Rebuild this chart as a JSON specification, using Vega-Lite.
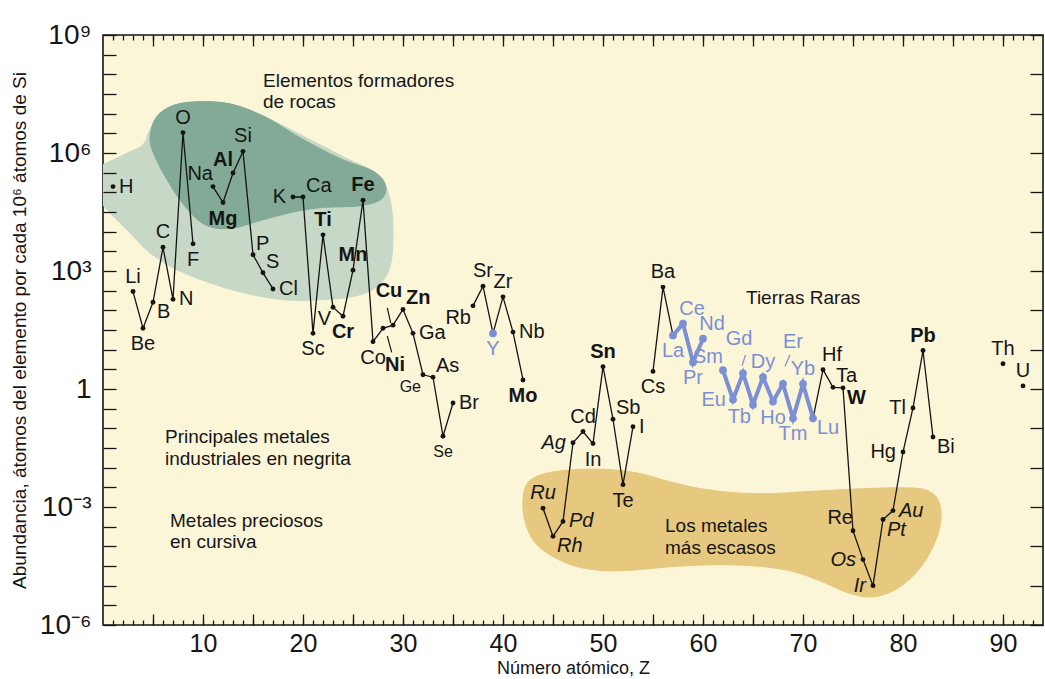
{
  "$schema": "https://vega.github.io/schema/vega-lite/v6.json",
  "width": 940,
  "height": 590,
  "autosize": {"type": "none"},
  "padding": {"left": 103, "top": 35, "right": 2, "bottom": 54},
  "background": "#ffffff",
  "config": {
    "view": {"fill": "#fcf6d9", "stroke": "#151515", "strokeWidth": 1.6},
    "axis": {"domain": false, "grid": false, "tickColor": "#151515", "tickWidth": 1.3, "labelFont": "Liberation Sans", "labelColor": "#151515", "titleFont": "Liberation Sans", "titleColor": "#151515", "titleFontWeight": "normal", "zindex": 1},
    "text": {"font": "Liberation Sans"}
  },
  "resolve": {"axis": {"x": "independent", "y": "independent"}},
  "datasets": {
    "elements": [
      {"Z":1,"sym":"H","v":140000,"grp":"normal","pos":"E"},
      {"Z":3,"sym":"Li","v":300,"grp":"normal","seg":"a","pos":"N"},
      {"Z":4,"sym":"Be","v":35,"grp":"normal","seg":"a","pos":"S"},
      {"Z":5,"sym":"B","v":160,"grp":"normal","seg":"a","pos":"SE"},
      {"Z":6,"sym":"C","v":4000,"grp":"normal","seg":"a","pos":"N"},
      {"Z":7,"sym":"N","v":190,"grp":"normal","seg":"a","pos":"E"},
      {"Z":8,"sym":"O","v":3300000,"grp":"normal","seg":"a","pos":"N"},
      {"Z":9,"sym":"F","v":4900,"grp":"normal","seg":"a","pos":"S"},
      {"Z":11,"sym":"Na","v":140000,"grp":"normal","seg":"b","pos":"NW"},
      {"Z":12,"sym":"Mg","v":55000,"grp":"industrial","seg":"b","pos":"S"},
      {"Z":13,"sym":"Al","v":310000,"grp":"industrial","seg":"b","pos":"NW"},
      {"Z":14,"sym":"Si","v":1100000,"grp":"normal","seg":"b","pos":"N"},
      {"Z":15,"sym":"P","v":2600,"grp":"normal","seg":"b","pos":"NE"},
      {"Z":16,"sym":"S","v":900,"grp":"normal","seg":"b","pos":"NE"},
      {"Z":17,"sym":"Cl","v":350,"grp":"normal","seg":"b","pos":"E"},
      {"Z":19,"sym":"K","v":76000,"grp":"normal","seg":"c","pos":"W"},
      {"Z":20,"sym":"Ca","v":76000,"grp":"normal","seg":"c","pos":"NE"},
      {"Z":21,"sym":"Sc","v":26,"grp":"normal","seg":"c","pos":"S"},
      {"Z":22,"sym":"Ti","v":8300,"grp":"industrial","seg":"c","pos":"N"},
      {"Z":23,"sym":"V","v":120,"grp":"normal","seg":"c","pos":"SW"},
      {"Z":24,"sym":"Cr","v":71,"grp":"industrial","seg":"c","pos":"S"},
      {"Z":25,"sym":"Mn","v":1050,"grp":"industrial","seg":"c","pos":"N"},
      {"Z":26,"sym":"Fe","v":63000,"grp":"industrial","seg":"c","pos":"N"},
      {"Z":27,"sym":"Co","v":16,"grp":"normal","seg":"c","pos":"S"},
      {"Z":28,"sym":"Ni","v":35,"grp":"industrial","seg":"c","pos":"SE2"},
      {"Z":29,"sym":"Cu","v":42,"grp":"industrial","seg":"c","pos":"N2"},
      {"Z":30,"sym":"Zn","v":105,"grp":"industrial","seg":"c","pos":"NE"},
      {"Z":31,"sym":"Ga","v":26,"grp":"normal","seg":"c","pos":"E"},
      {"Z":32,"sym":"Ge","v":2.3,"grp":"normal","seg":"c","pos":"SW"},
      {"Z":33,"sym":"As","v":2.0,"grp":"normal","seg":"c","pos":"NE"},
      {"Z":34,"sym":"Se","v":0.063,"grp":"normal","seg":"c","pos":"S"},
      {"Z":35,"sym":"Br","v":0.44,"grp":"normal","seg":"c","pos":"E"},
      {"Z":37,"sym":"Rb","v":130,"grp":"normal","seg":"d","pos":"SW"},
      {"Z":38,"sym":"Sr","v":410,"grp":"normal","seg":"d","pos":"N"},
      {"Z":39,"sym":"Y","v":26,"grp":"rare","seg":"d","pos":"S"},
      {"Z":40,"sym":"Zr","v":220,"grp":"normal","seg":"d","pos":"N"},
      {"Z":41,"sym":"Nb","v":28,"grp":"normal","seg":"d","pos":"E"},
      {"Z":42,"sym":"Mo","v":1.7,"grp":"industrial","seg":"d","pos":"S"},
      {"Z":44,"sym":"Ru","v":0.00093,"grp":"precious","seg":"e","pos":"N"},
      {"Z":45,"sym":"Rh","v":0.00018,"grp":"precious","seg":"e","pos":"SE"},
      {"Z":46,"sym":"Pd","v":0.00043,"grp":"precious","seg":"e","pos":"E"},
      {"Z":47,"sym":"Ag","v":0.043,"grp":"precious","seg":"e","pos":"W"},
      {"Z":48,"sym":"Cd","v":0.083,"grp":"normal","seg":"e","pos":"N"},
      {"Z":49,"sym":"In","v":0.041,"grp":"normal","seg":"e","pos":"S"},
      {"Z":50,"sym":"Sn","v":3.7,"grp":"industrial","seg":"e","pos":"N"},
      {"Z":51,"sym":"Sb","v":0.17,"grp":"normal","seg":"e","pos":"NE"},
      {"Z":52,"sym":"Te","v":0.0037,"grp":"normal","seg":"e","pos":"S"},
      {"Z":53,"sym":"I","v":0.11,"grp":"normal","seg":"e","pos":"E"},
      {"Z":55,"sym":"Cs","v":2.8,"grp":"normal","seg":"f","pos":"S"},
      {"Z":56,"sym":"Ba","v":390,"grp":"normal","seg":"f","pos":"N"},
      {"Z":57,"sym":"La","v":23,"grp":"rare","seg":"f","reseg":"r1","pos":"S"},
      {"Z":58,"sym":"Ce","v":46,"grp":"rare","reseg":"r1","pos":"NNE"},
      {"Z":59,"sym":"Pr","v":4.8,"grp":"rare","reseg":"r1","pos":"S"},
      {"Z":60,"sym":"Nd","v":19,"grp":"rare","reseg":"r1","pos":"NNE"},
      {"Z":62,"sym":"Sm","v":3.0,"grp":"rare","reseg":"r2","pos":"NW"},
      {"Z":63,"sym":"Eu","v":0.54,"grp":"rare","reseg":"r2","pos":"W"},
      {"Z":64,"sym":"Gd","v":2.5,"grp":"rare","reseg":"r2","pos":"N2"},
      {"Z":65,"sym":"Tb","v":0.40,"grp":"rare","reseg":"r2","pos":"SW"},
      {"Z":66,"sym":"Dy","v":2.0,"grp":"rare","reseg":"r2","pos":"N"},
      {"Z":67,"sym":"Ho","v":0.48,"grp":"rare","reseg":"r2","pos":"S"},
      {"Z":68,"sym":"Er","v":1.35,"grp":"rare","reseg":"r2","pos":"NE2"},
      {"Z":69,"sym":"Tm","v":0.18,"grp":"rare","reseg":"r2","pos":"S"},
      {"Z":70,"sym":"Yb","v":1.35,"grp":"rare","reseg":"r2","pos":"N"},
      {"Z":71,"sym":"Lu","v":0.18,"grp":"rare","seg":"g","reseg":"r2","pos":"SE"},
      {"Z":72,"sym":"Hf","v":3.1,"grp":"normal","seg":"g","pos":"NNE"},
      {"Z":73,"sym":"Ta","v":1.1,"grp":"normal","seg":"g","pos":"NE"},
      {"Z":74,"sym":"W","v":1.07,"grp":"industrial","seg":"g","pos":"SE"},
      {"Z":75,"sym":"Re","v":0.00025,"grp":"normal","seg":"g","pos":"NW"},
      {"Z":76,"sym":"Os","v":0.000046,"grp":"precious","seg":"g","pos":"W"},
      {"Z":77,"sym":"Ir","v":0.00001,"grp":"precious","seg":"g","pos":"W"},
      {"Z":78,"sym":"Pt","v":0.00048,"grp":"precious","seg":"g","pos":"SE"},
      {"Z":79,"sym":"Au","v":0.00081,"grp":"precious","seg":"g","pos":"E"},
      {"Z":80,"sym":"Hg","v":0.025,"grp":"normal","seg":"g","pos":"W"},
      {"Z":81,"sym":"Tl","v":0.33,"grp":"normal","seg":"g","pos":"W"},
      {"Z":82,"sym":"Pb","v":9.5,"grp":"industrial","seg":"g","pos":"N"},
      {"Z":83,"sym":"Bi","v":0.06,"grp":"normal","seg":"g","pos":"SE"},
      {"Z":90,"sym":"Th","v":4.4,"grp":"normal","pos":"N"},
      {"Z":92,"sym":"U","v":1.2,"grp":"normal","pos":"N"}
    ],
    "lightBlob": [
      {"i":0,"Z":-0.7,"v":158000},{"i":1,"Z":-0.3,"v":427000},{"i":2,"Z":0.4,"v":562000},{"i":3,"Z":2.7,"v":1070000},
      {"i":4,"Z":4.0,"v":1620000},{"i":5,"Z":4.7,"v":3890000},{"i":6,"Z":5.7,"v":10500000},{"i":7,"Z":8.2,"v":17800000},
      {"i":8,"Z":11.7,"v":17800000},{"i":9,"Z":15.7,"v":9330000},{"i":10,"Z":19.7,"v":2950000},{"i":11,"Z":24.2,"v":759000},
      {"i":12,"Z":27.5,"v":282000},{"i":13,"Z":28.7,"v":64600},{"i":14,"Z":29.0,"v":9550},{"i":15,"Z":28.7,"v":1290},
      {"i":16,"Z":27.4,"v":398},{"i":17,"Z":25.0,"v":224},{"i":18,"Z":21.7,"v":186},{"i":19,"Z":18.0,"v":186},
      {"i":20,"Z":14.0,"v":282},{"i":21,"Z":10.7,"v":501},{"i":22,"Z":7.4,"v":1070},{"i":23,"Z":4.7,"v":2880},
      {"i":24,"Z":2.7,"v":9330},{"i":25,"Z":0.7,"v":30200},{"i":26,"Z":-0.5,"v":72400}
    ],
    "darkBlob": [
      {"i":0,"Z":4.7,"v":2190000},{"i":1,"Z":5.2,"v":7080000},{"i":2,"Z":6.7,"v":15100000},{"i":3,"Z":9.2,"v":20000000},
      {"i":4,"Z":12.7,"v":17800000},{"i":5,"Z":16.2,"v":8320000},{"i":6,"Z":19.7,"v":2450000},{"i":7,"Z":23.7,"v":724000},
      {"i":8,"Z":26.9,"v":355000},{"i":9,"Z":28.2,"v":166000},{"i":10,"Z":27.9,"v":69200},{"i":11,"Z":25.7,"v":45700},
      {"i":12,"Z":21.7,"v":40700},{"i":13,"Z":18.7,"v":30200},{"i":14,"Z":15.7,"v":19100},{"i":15,"Z":12.7,"v":12000},
      {"i":16,"Z":10.2,"v":15100},{"i":17,"Z":8.2,"v":43700},{"i":18,"Z":6.4,"v":209000},{"i":19,"Z":5.2,"v":813000}
    ],
    "goldBlob": [
      {"i":0,"Z":42.0,"v":0.00155},{"i":1,"Z":42.5,"v":0.00417},{"i":2,"Z":44.2,"v":0.00708},{"i":3,"Z":47.2,"v":0.00891},
      {"i":4,"Z":50.7,"v":0.00891},{"i":5,"Z":53.7,"v":0.00708},{"i":6,"Z":56.7,"v":0.00437},{"i":7,"Z":59.7,"v":0.00295},
      {"i":8,"Z":63.2,"v":0.00229},{"i":9,"Z":66.7,"v":0.00219},{"i":10,"Z":70.2,"v":0.00245},{"i":11,"Z":73.7,"v":0.00275},
      {"i":12,"Z":76.7,"v":0.00295},{"i":13,"Z":79.7,"v":0.00309},{"i":14,"Z":82.2,"v":0.00275},{"i":15,"Z":83.5,"v":0.00155},
      {"i":16,"Z":83.8,"v":0.000537},{"i":17,"Z":83.3,"v":0.000148},{"i":18,"Z":81.9,"v":0.0000324},{"i":19,"Z":79.7,"v":0.00000933},
      {"i":20,"Z":77.2,"v":0.00000525},{"i":21,"Z":74.7,"v":0.00000631},{"i":22,"Z":71.9,"v":0.0000126},{"i":23,"Z":68.7,"v":0.000024},
      {"i":24,"Z":64.7,"v":0.0000324},{"i":25,"Z":60.7,"v":0.0000339},{"i":26,"Z":56.7,"v":0.0000302},{"i":27,"Z":53.2,"v":0.0000251},
      {"i":28,"Z":50.2,"v":0.000024},{"i":29,"Z":47.5,"v":0.0000302},{"i":30,"Z":45.2,"v":0.0000513},{"i":31,"Z":43.2,"v":0.000123},
      {"i":32,"Z":42.2,"v":0.000427}
    ],
    "notes": [
      {"t":"Elementos formadores","Z":16.0,"v":69000000},
      {"t":"de rocas","Z":16.0,"v":20000000},
      {"t":"Principales metales","Z":6.2,"v":0.061},
      {"t":"industriales en negrita","Z":6.2,"v":0.0168},
      {"t":"Metales preciosos","Z":6.7,"v":0.00045},
      {"t":"en cursiva","Z":6.7,"v":0.00013},
      {"t":"Tierras Raras","Z":64.3,"v":209},
      {"t":"Los metales","Z":56.2,"v":0.00032},
      {"t":"más escasos","Z":56.2,"v":0.000092}
    ],
    "leaders": [
      {"Z":28.43,"v":115,"Z2":28.77,"v2":48,"grp":"industrial"},
      {"Z":28.43,"v":22,"Z2":28.87,"v2":8.5,"grp":"industrial"},
      {"Z":63.9,"v":3.9,"Z2":64.25,"v2":7.4,"grp":"rare"},
      {"Z":68.2,"v":3.8,"Z2":68.7,"v2":7.4,"grp":"rare"}
    ]
  },
  "layer": [
    {
      "data": {"name": "lightBlob"},
      "mark": {"type": "line", "interpolate": "cardinal-closed", "fill": "#c8d8c7", "stroke": "#c8d8c7", "strokeWidth": 1, "clip": true},
      "encoding": {
        "x": {"field": "Z", "type": "quantitative", "scale": {"domain": [0, 94], "nice": false, "zero": false},
          "axis": {"orient": "bottom", "zindex": 2, "values": [1,2,3,4,5,6,7,8,9,10,11,12,13,14,15,16,17,18,19,20,21,22,23,24,25,26,27,28,29,30,31,32,33,34,35,36,37,38,39,40,41,42,43,44,45,46,47,48,49,50,51,52,53,54,55,56,57,58,59,60,61,62,63,64,65,66,67,68,69,70,71,72,73,74,75,76,77,78,79,80,81,82,83,84,85,86,87,88,89,90,91,92,93], "ticks": true, "tickSize": 5, "offset": -5, "labelPadding": 6, "labelFontSize": 25, "labelOverlap": false, "labelFlush": false,
            "labelExpr": "datum.value % 10 == 0 ? datum.label : ''",
            "title": "Número atómico, Z", "titleFontSize": 18, "titlePadding": 3}},
        "y": {"field": "v", "type": "quantitative", "scale": {"type": "log", "domain": [0.000001, 1000000000], "nice": false},
          "axis": {"orient": "left", "zindex": 2, "values": [0.000001,0.000003162,0.00001,0.00003162,0.0001,0.0003162,0.001,0.003162,0.01,0.03162,0.1,0.3162,1,3.162,10,31.62,100,316.2,1000,3162,10000,31623,100000,316228,1000000,3162278,10000000,31622777,100000000,316227766,1000000000], "ticks": true, "tickSize": 13, "offset": -13, "labelPadding": 12, "labelFontSize": 28, "labelOverlap": false,
            "labelExpr": "datum.value == 1000000000 ? '10⁹' : datum.value == 1000000 ? '10⁶' : datum.value == 1000 ? '10³' : datum.value == 1 ? '1' : datum.value == 0.001 ? '10⁻³' : datum.value == 0.000001 ? '10⁻⁶' : ''",
            "title": "Abundancia, átomos del elemento por cada 10⁶ átomos de Si", "titleFontSize": 19, "titlePadding": 10}},
        "order": {"field": "i", "type": "quantitative"}
      }
    },
    {
      "data": {"name": "darkBlob"},
      "mark": {"type": "line", "interpolate": "cardinal-closed", "fill": "#82aa97", "stroke": "#82aa97", "strokeWidth": 1, "clip": true},
      "encoding": {
        "x": {"field": "Z", "type": "quantitative", "scale": {"domain": [0, 94], "nice": false, "zero": false},
          "axis": {"orient": "bottom", "zindex": 2, "values": [5,10,15,20,25,30,35,40,45,50,55,60,65,70,75,80,85,90], "ticks": true, "tickSize": 11, "offset": -11, "labelExpr": "''", "labelOverlap": false, "title": null}},
        "y": {"field": "v", "type": "quantitative", "scale": {"type": "log", "domain": [0.000001, 1000000000], "nice": false},
          "axis": {"orient": "right", "zindex": 2, "values": [0.000001,0.00001,0.0001,0.001,0.01,0.1,1,10,100,1000,10000,100000,1000000,10000000,100000000,1000000000], "ticks": true, "tickSize": 13, "offset": -13, "labelExpr": "''", "labelOverlap": false, "title": null}},
        "order": {"field": "i", "type": "quantitative"}
      }
    },
    {
      "data": {"name": "goldBlob"},
      "mark": {"type": "line", "interpolate": "cardinal-closed", "fill": "#e6c87e", "stroke": "#e6c87e", "strokeWidth": 1, "clip": true},
      "encoding": {
        "x": {"field": "Z", "type": "quantitative", "scale": {"domain": [0, 94], "nice": false, "zero": false},
          "axis": {"orient": "top", "zindex": 2, "values": [1,2,3,4,5,6,7,8,9,10,11,12,13,14,15,16,17,18,19,20,21,22,23,24,25,26,27,28,29,30,31,32,33,34,35,36,37,38,39,40,41,42,43,44,45,46,47,48,49,50,51,52,53,54,55,56,57,58,59,60,61,62,63,64,65,66,67,68,69,70,71,72,73,74,75,76,77,78,79,80,81,82,83,84,85,86,87,88,89,90,91,92,93], "ticks": true, "tickSize": 5, "offset": -5, "labelExpr": "''", "labelOverlap": false, "title": null}},
        "y": {"field": "v", "type": "quantitative", "scale": {"type": "log", "domain": [0.000001, 1000000000], "nice": false}, "axis": null},
        "order": {"field": "i", "type": "quantitative"}
      }
    },
    {
      "data": {"name": "notes"},
      "mark": {"type": "text", "align": "left", "baseline": "middle", "fontSize": 19, "font": "Liberation Sans", "color": "#151515"},
      "encoding": {
        "x": {"field": "Z", "type": "quantitative", "scale": {"domain": [0, 94], "nice": false, "zero": false},
          "axis": {"orient": "top", "zindex": 2, "values": [5,10,15,20,25,30,35,40,45,50,55,60,65,70,75,80,85,90], "ticks": true, "tickSize": 11, "offset": -11, "labelExpr": "''", "labelOverlap": false, "title": null}},
        "y": {"field": "v", "type": "quantitative", "scale": {"type": "log", "domain": [0.000001, 1000000000], "nice": false}, "axis": null},
        "text": {"field": "t"}
      }
    },
    {
      "data": {"name": "elements"},
      "transform": [{"filter": "isValid(datum.seg)"}],
      "mark": {"type": "line", "color": "#151515", "strokeWidth": 1.3},
      "encoding": {
        "x": {"field": "Z", "type": "quantitative", "scale": {"domain": [0, 94], "nice": false, "zero": false}, "axis": null},
        "y": {"field": "v", "type": "quantitative", "scale": {"type": "log", "domain": [0.000001, 1000000000], "nice": false}, "axis": null},
        "detail": {"field": "seg"}
      }
    },
    {
      "data": {"name": "elements"},
      "transform": [{"filter": "isValid(datum.reseg)"}],
      "mark": {"type": "line", "color": "#7b8fd4", "strokeWidth": 4},
      "encoding": {
        "x": {"field": "Z", "type": "quantitative", "scale": {"domain": [0, 94], "nice": false, "zero": false}, "axis": null},
        "y": {"field": "v", "type": "quantitative", "scale": {"type": "log", "domain": [0.000001, 1000000000], "nice": false}, "axis": null},
        "detail": {"field": "reseg"}
      }
    },
    {
      "data": {"name": "elements"},
      "transform": [{"filter": "datum.grp != 'rare'"}],
      "mark": {"type": "circle", "size": 24, "opacity": 1, "color": "#151515"},
      "encoding": {
        "x": {"field": "Z", "type": "quantitative", "scale": {"domain": [0, 94], "nice": false, "zero": false}, "axis": null},
        "y": {"field": "v", "type": "quantitative", "scale": {"type": "log", "domain": [0.000001, 1000000000], "nice": false}, "axis": null}
      }
    },
    {
      "data": {"name": "elements"},
      "transform": [{"filter": "datum.grp == 'rare'"}],
      "mark": {"type": "circle", "size": 60, "opacity": 1, "color": "#7b8fd4"},
      "encoding": {
        "x": {"field": "Z", "type": "quantitative", "scale": {"domain": [0, 94], "nice": false, "zero": false}, "axis": null},
        "y": {"field": "v", "type": "quantitative", "scale": {"type": "log", "domain": [0.000001, 1000000000], "nice": false}, "axis": null}
      }
    },
    {
      "data": {"name": "leaders"},
      "mark": {"type": "rule", "strokeWidth": 1.2},
      "encoding": {
        "x": {"field": "Z", "type": "quantitative", "scale": {"domain": [0, 94], "nice": false, "zero": false}, "axis": null},
        "y": {"field": "v", "type": "quantitative", "scale": {"type": "log", "domain": [0.000001, 1000000000], "nice": false}, "axis": null},
        "x2": {"field": "Z2"},
        "y2": {"field": "v2"},
        "color": {"condition": {"test": "datum.grp == 'rare'", "value": "#7b8fd4"}, "value": "#151515"}
      }
    },
    {
      "data": {"name": "elements"},
      "mark": {
        "type": "text",
        "font": "Liberation Sans",
        "baseline": "middle",
        "fontSize": {"expr": "(datum.sym == 'Ge' || datum.sym == 'Se') ? 16 : 20"},
        "fontWeight": {"expr": "datum.grp == 'industrial' ? 'bold' : 'normal'"},
        "fontStyle": {"expr": "datum.grp == 'precious' ? 'italic' : 'normal'"},
        "align": {"expr": "(datum.pos == 'E' || datum.pos == 'NE' || datum.pos == 'SE') ? 'left' : ((datum.pos == 'W' || datum.pos == 'NW' || datum.pos == 'SW') ? 'right' : 'center')"},
        "dx": {"expr": "datum.pos == 'E' ? 6 : datum.pos == 'W' ? -7 : datum.pos == 'NE' ? 3 : datum.pos == 'SE' ? 4 : datum.pos == 'SW' ? -2 : datum.pos == 'NNE' ? 9 : datum.pos == 'N2' ? -4 : datum.pos == 'NE2' ? 10 : datum.pos == 'SE2' ? 12 : 0"},
        "dy": {"expr": "datum.pos == 'N' ? -15 : datum.pos == 'S' ? 16 : datum.pos == 'NE' ? -11 : datum.pos == 'NNE' ? -15 : datum.pos == 'NW' ? -13 : datum.pos == 'SE' ? 10 : datum.pos == 'SW' ? 12 : datum.pos == 'N2' ? -34 : datum.pos == 'NE2' ? -42 : datum.pos == 'SE2' ? 37 : 0"}
      },
      "encoding": {
        "x": {"field": "Z", "type": "quantitative", "scale": {"domain": [0, 94], "nice": false, "zero": false}, "axis": null},
        "y": {"field": "v", "type": "quantitative", "scale": {"type": "log", "domain": [0.000001, 1000000000], "nice": false}, "axis": null},
        "text": {"field": "sym"},
        "color": {"condition": {"test": "datum.grp == 'rare'", "value": "#7b8fd4"}, "value": "#151515"}
      }
    }
  ]
}
